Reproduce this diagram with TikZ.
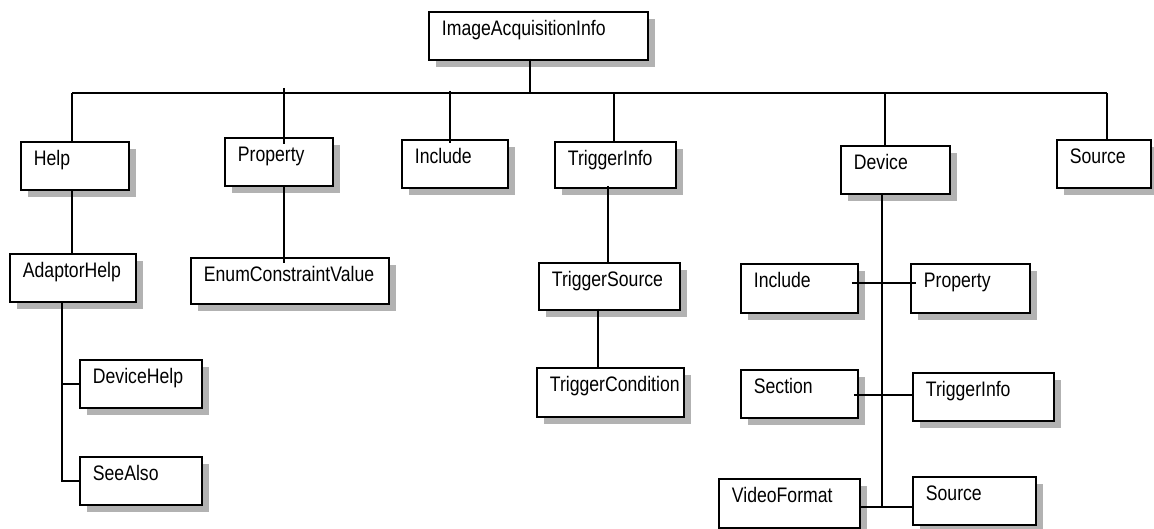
\documentclass[tikz,border=0pt]{standalone}
\usepackage{fontspec}
\setmainfont{Liberation Sans}[FakeStretch=0.84]
\usetikzlibrary{shadows,calc}
\begin{document}
\begin{tikzpicture}[x=1pt,y=-1pt,
  bx/.style={draw, line width=1.8pt, fill=white, anchor=north west,
    inner xsep=13pt, inner ysep=0pt, text height=24pt, text depth=24pt,
    align=left, font=\fontsize{21pt}{25pt}\selectfont,
    drop shadow={shadow xshift=7pt, shadow yshift=-7pt, fill=black!30, opacity=1}},
  ln/.style={line width=1.5pt}]
\useasboundingbox (0,0) rectangle (1154,529);
% top level
\node[bx, text width=193pt] (root) at (428,11) {ImageAcquisitionInfo};
\node[bx, text width=82pt] (help) at (20,141) {Help};
\node[bx, text width=82pt] (prop) at (224,137) {Property};
\node[bx, text width=80pt] (inc) at (401,139) {Include};
\node[bx, text width=95pt, text depth=22pt] (trig) at (554,141) {TriggerInfo};
\node[bx, text width=83pt] (dev) at (840,145) {Device};
\node[bx, text width=68pt] (src) at (1056,139) {Source};
% second level
\node[bx, text width=100pt] (adapt) at (9,253) {AdaptorHelp};
\node[bx, text width=172pt, text depth=22pt] (enum) at (190,257) {EnumConstraintValue};
\node[bx, text width=115pt, text depth=23pt] (tsrc) at (538,262) {TriggerSource};
\node[bx, text width=121pt, text depth=25pt] (tcond) at (536,367) {TriggerCondition};
\node[bx, text width=96pt] (dhelp) at (79,359) {DeviceHelp};
\node[bx, text width=96pt] (seealso) at (79,456) {SeeAlso};
\node[bx, text width=91pt, text depth=25pt] (dinc) at (740,263) {Include};
\node[bx, text width=93pt, text depth=25pt] (dprop) at (910,263) {Property};
\node[bx, text width=91pt] (dsec) at (740,369) {Section};
\node[bx, text width=115pt] (dtrig) at (912,372) {TriggerInfo};
\node[bx, text width=115pt, text depth=25pt] (vfmt) at (718,478) {VideoFormat};
\node[bx, text width=97pt] (dsrc) at (912,476) {Source};
% bus coordinates
\coordinate (bRoot) at (530,93);
\coordinate (bHelp) at (72,93);
\coordinate (bProp) at (284,93);
\coordinate (bInc) at (450,93);
\coordinate (bTrig) at (614,93);
\coordinate (bDev) at (885,93);
\coordinate (bSrc) at (1107,93);
\coordinate (xTS) at (608,0);
\coordinate (xTC) at (598,0);
\coordinate (xA) at (62,0);
\coordinate (xD) at (882,0);
\coordinate (j1) at (882,283);
\coordinate (j2) at (882,395);
\coordinate (j3) at (882,507);
% connectors
\draw[ln] (bHelp) -- (bSrc);
\draw[ln] ($(root.south -| bRoot)+(0,-2)$) -- (bRoot);
\draw[ln] (bHelp) -- (bHelp |- help.north);
\draw[ln] ([yshift=5pt]bProp) -- ($(bProp |- prop.north)+(0,7)$);
\draw[ln] ([yshift=2pt]bInc) -- ($(bInc |- inc.north)+(0,4)$);
\draw[ln] (bTrig) -- (bTrig |- trig.north);
\draw[ln] (bDev) -- (bDev |- dev.north);
\draw[ln] (bSrc) -- (bSrc |- src.north);
\draw[ln] (bHelp |- help.south) -- (bHelp |- adapt.north);
\draw[ln] (prop.south -| bProp) -- ($(bProp |- enum.north)+(0,6)$);
\draw[ln] ($(xTS |- trig.south)+(0,-3)$) -- (xTS |- tsrc.north);
\draw[ln] ($(xTC |- tsrc.south)+(0,-2)$) -- (xTC |- tcond.north);
\draw[ln] (xA |- adapt.south) |- (seealso.west);
\draw[ln] (xA |- dhelp.west) -- (dhelp.west);
\draw[ln] (xD |- dev.south) -- (j3);
\draw[ln] ($(j1 -| dinc.east)+(-7,0)$) -- ($(j1 -| dprop.west)+(6,0)$);
\draw[ln] ($(j2 -| dsec.east)+(-5,0)$) -- (j2 -| dtrig.west);
\draw[ln] (j3 -| vfmt.east) -- (j3 -| dsrc.west);
\end{tikzpicture}
\end{document}
